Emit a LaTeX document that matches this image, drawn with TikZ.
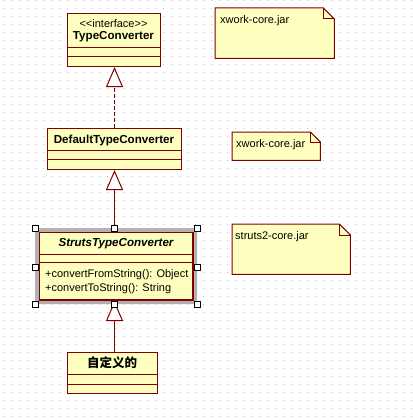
\documentclass[tikz,border=0pt]{standalone}
\usepackage{fontspec}
\setmainfont{Liberation Sans}
\newfontfamily\cjk{Noto Sans CJK SC}
\usetikzlibrary{arrows.meta,calc}
\definecolor{umlfill}{RGB}{255,255,192}
\definecolor{umlline}{RGB}{128,0,0}
\definecolor{griddot}{RGB}{192,192,192}
\definecolor{selband}{RGB}{178,178,178}
\tikzset{
  classbox/.style={draw=umlline, fill=umlfill, line width=1pt, rectangle, inner sep=0pt, anchor=north west},
  notebox/.style={rectangle, inner sep=0pt, anchor=north west},
  noteline/.style={draw=umlline, line width=1pt, line join=miter},
  divider/.style={umlline, line width=1pt},
  gen/.style={umlline, line width=1pt, -{Triangle[open, length=20pt, width=17pt, fill=white]}},
  realize/.style={gen, dash pattern=on 4pt off 2pt},
  handle/.style={draw=black, fill=white, line width=0.8pt, minimum size=6pt, inner sep=0pt, rectangle},
  lbl/.style={font=\fontsize{11}{13}\selectfont, inner sep=0pt},
  title/.style={lbl, font=\fontsize{11.6}{13}\selectfont\bfseries},
}
\begin{document}
\begin{tikzpicture}[x=1pt, y=-1pt]
  \useasboundingbox (0,0) rectangle (412,420);
  \fill[white] (0,0) rectangle (412,420);
  % dotted drawing grid
  \foreach \i in {0,...,51}
    \foreach \j in {0,...,52}
      \fill[griddot] (3+8*\i, 8*\j) rectangle ++(1,1);

  % axis of the inheritance chain
  \coordinate (axis) at (114.5,0);

  % TypeConverter interface
  \node[classbox, minimum width=93pt, minimum height=53pt] (tc) at (67,13) {};
  \draw[divider] ($(tc.north west)+(0,35)$) -- ($(tc.north east)+(0,35)$);
  \draw[divider] ($(tc.north west)+(0,44)$) -- ($(tc.north east)+(0,44)$);
  \node[lbl, anchor=base] (tcst) at (113.5,27.5) {<{}<interface>{}>};
  \node[title, anchor=base] (tcname) at (113.5,39.5) {TypeConverter};

  % DefaultTypeConverter
  \node[classbox, minimum width=134pt, minimum height=41pt] (dtc) at (47,128) {};
  \draw[divider] ($(dtc.north west)+(0,22)$) -- ($(dtc.north east)+(0,22)$);
  \draw[divider] ($(dtc.north west)+(0,31)$) -- ($(dtc.north east)+(0,31)$);
  \node[title, anchor=base] (dtcname) at (114,143.5) {DefaultTypeConverter};

  % StrutsTypeConverter (selected)
  \node[classbox, minimum width=153pt, minimum height=67pt] (stc) at (39,232) {};
  \fill[selband, even odd rule]
    ($(stc.north west)+(-4,-4)$) rectangle ($(stc.south east)+(4,4)$)
    (stc.north west) rectangle (stc.south east);
  \draw[divider] (stc.north west) rectangle (stc.south east);
  \draw[divider] ($(stc.north west)+(0,22)$) -- ($(stc.north east)+(0,22)$);
  \draw[divider] ($(stc.north west)+(0,30)$) -- ($(stc.north east)+(0,30)$);
  \node[title, anchor=base, font=\fontsize{11.6}{13}\selectfont\bfseries\itshape] (stcname) at (116,246.7) {StrutsTypeConverter};
  \node[lbl, anchor=base west] (op1) at (45,277.3) {+convertFromString(): Object};
  \node[lbl, anchor=base west] (op2) at (45,291) {+convertToString(): String};

  % user-defined converter
  \node[classbox, minimum width=90pt, minimum height=41pt] (cust) at (67,352) {};
  \draw[divider] ($(cust.north west)+(0,22)$) -- ($(cust.north east)+(0,22)$);
  \draw[divider] ($(cust.north west)+(0,32)$) -- ($(cust.north east)+(0,32)$);
  \node[inner sep=0pt, anchor=base, font=\cjk\fontsize{12.5}{14}\selectfont\bfseries] (custname) at (112,367.5) {自定义的};

  % inheritance connectors
  \draw[realize] (dtc.north -| axis) -- (tc.south -| axis);
  \draw[gen] ($(stc.north -| axis)+(0,-4)$) -- (dtc.south -| axis);
  \draw[gen] (cust.north -| axis) -- ($(stc.south -| axis)+(0,1)$);

  % selection handles
  \node[handle] (h1) at ($(stc.north west)+(-4,-4)$) {};
  \node[handle] (h2) at ($(stc.north -| axis)+(0,-4)$) {};
  \node[handle] (h3) at ($(stc.north east)+(4,-4)$) {};
  \node[handle] (h4) at ($(stc.west)+(-4,1)$) {};
  \node[handle] (h5) at ($(stc.east)+(4,1)$) {};
  \node[handle] (h6) at ($(stc.south west)+(-4,4)$) {};
  \node[handle] (h7) at ($(stc.south -| axis)+(0,4)$) {};
  \node[handle] (h8) at ($(stc.south east)+(4,4)$) {};

  % notes
  \foreach \n/\x/\y/\w/\h/\f in {n1/215/8/119/50/11, n2/232/132/88/28/10, n3/232/224/118/50/11} {
    \node[notebox, minimum width=\w pt, minimum height=\h pt] (\n) at (\x,\y) {};
    \filldraw[noteline, fill=umlfill] (\n.north west) -- ($(\n.north east)+(-\f,0)$)
      -- ($(\n.north east)+(0,\f)$) -- (\n.south east) -- (\n.south west) -- cycle;
    \draw[noteline] ($(\n.north east)+(-\f,0)$) -- ($(\n.north east)+(-\f,\f)$)
      -- ($(\n.north east)+(0,\f)$);
  }
  \node[lbl, anchor=base west] (n1text) at (220,23.3) {xwork-core.jar};
  \node[lbl, anchor=base west] (n2text) at (236,147.3) {xwork-core.jar};
  \node[lbl, anchor=base west] (n3text) at (235,239) {struts2-core.jar};
\end{tikzpicture}
\end{document}
